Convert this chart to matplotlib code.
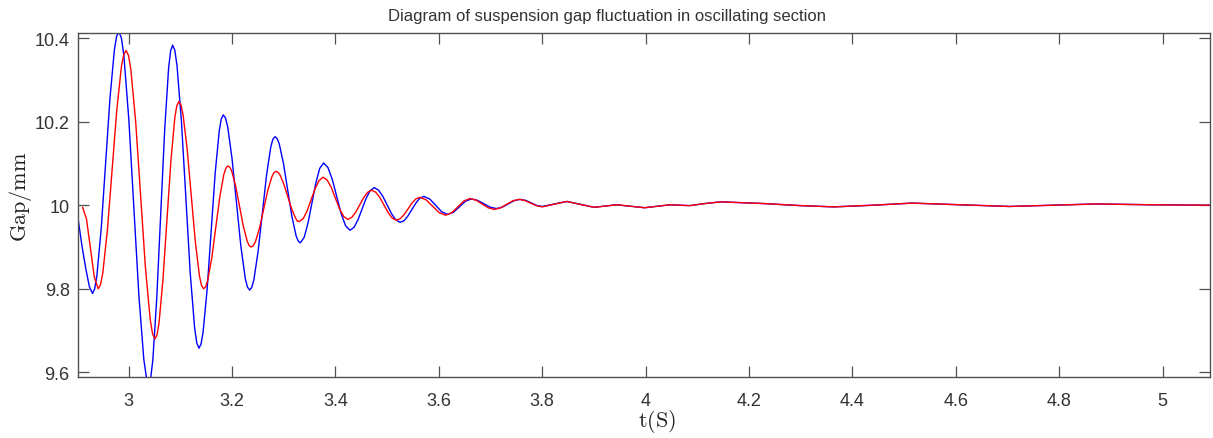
import matplotlib
matplotlib.use("Agg")
import matplotlib.pyplot as plt

# ---- data ----
blue_t = [2.900, 2.910, 2.917, 2.924, 2.930,
          2.9385, 2.947, 2.9555, 2.964, 2.9725, 2.981,
          2.9907, 3.0003, 3.010, 3.0197, 3.0293, 3.039,
          3.0467, 3.0543, 3.062, 3.0697, 3.0773, 3.085,
          3.0935, 3.102, 3.1105, 3.119, 3.1275, 3.136,
          3.1438, 3.1517, 3.1595, 3.1673, 3.1752, 3.183,
          3.1915, 3.200, 3.2085, 3.217, 3.2255, 3.234,
          3.2422, 3.2503, 3.2585, 3.2667, 3.2748, 3.283,
          3.2912, 3.2993, 3.3075, 3.3157, 3.3238, 3.332,
          3.3395, 3.347, 3.3545, 3.362, 3.3695, 3.377,
          3.3855, 3.394, 3.4025, 3.411, 3.4195, 3.428,
          3.4358, 3.4437, 3.4515, 3.4593, 3.4672, 3.475,
          3.4833, 3.4917, 3.500, 3.5083, 3.5167, 3.525,
          3.5327, 3.5403, 3.548, 3.5557, 3.5633, 3.571,
          3.5825, 3.594, 3.6055, 3.617,
          3.6285, 3.640, 3.6515, 3.663,
          3.675, 3.687, 3.699, 3.711,
          3.7225, 3.734, 3.7455, 3.757,
          3.768, 3.7785, 3.789, 3.800,
          3.824, 3.848, 3.874, 3.900, 3.9215, 3.943, 3.9705, 3.998, 4.0225, 4.047]
blue_v = [9.986, 9.900, 9.849, 9.805, 9.789,
          9.831, 9.9455, 10.102, 10.2585, 10.373, 10.415,
          10.359, 10.205, 9.995, 9.785, 9.631, 9.575,
          9.629, 9.777, 9.979, 10.181, 10.329, 10.383,
          10.334, 10.202, 10.0205, 9.839, 9.707, 9.658,
          9.695, 9.7975, 9.937, 10.0765, 10.178, 10.216,
          10.188, 10.111, 10.0065, 9.902, 9.825, 9.797,
          9.822, 9.889, 9.9805, 10.072, 10.139, 10.164,
          10.147, 10.1005, 10.037, 9.9735, 9.927, 9.910,
          9.923, 9.958, 10.0055, 10.053, 10.088, 10.101,
          10.090, 10.061, 10.0205, 9.980, 9.951, 9.940,
          9.947, 9.9655, 9.991, 10.0165, 10.035, 10.042,
          10.036, 10.021, 10.0005, 9.980, 9.965, 9.959,
          9.963, 9.9745, 9.990, 10.0055, 10.017, 10.021,
          10.0147, 9.9995, 9.9843, 9.978,
          9.9834, 9.9965, 10.0096, 10.015,
          10.0116, 10.0035, 9.9954, 9.992,
          9.9952, 10.003, 10.0108, 10.014,
          10.0115, 10.0055, 9.9995, 9.997,
          10.003, 10.009, 10.002, 9.995, 9.998, 10.001, 9.9975, 9.994, 9.9975, 10.001]
# extra readings close to the sharp peaks / troughs of the blue curve
blue_peak_t = [2.93425, 2.97675, 2.98583, 3.03417, 3.04283, 3.08117,
               3.08925, 3.13175, 3.13992, 3.17908, 3.18725, 3.22975,
               3.23808, 3.27892, 3.28708, 3.32792]
blue_peak_v = [9.7997, 10.4043, 10.4007, 9.5893, 9.5887, 10.3693,
               10.3707, 9.6703, 9.6675, 10.2065, 10.2089, 9.8041,
               9.8032, 10.1578, 10.1597, 9.9143]

red_t = [2.911, 2.9185, 2.926, 2.9335, 2.941,
         2.950, 2.959, 2.968, 2.977, 2.986, 2.995,
         3.0043, 3.0137, 3.023, 3.0323, 3.0417, 3.051,
         3.0587, 3.0663, 3.074, 3.0817, 3.0893, 3.097,
         3.105, 3.113, 3.121, 3.129, 3.137, 3.145,
         3.1528, 3.1607, 3.1685, 3.1763, 3.1842, 3.192,
         3.1995, 3.207, 3.2145, 3.222, 3.2295, 3.237,
         3.245, 3.253, 3.261, 3.269, 3.277, 3.285,
         3.2925, 3.300, 3.3075, 3.315, 3.3225, 3.330,
         3.3377, 3.3453, 3.353, 3.3607, 3.3683, 3.376,
         3.384, 3.392, 3.400, 3.408, 3.416, 3.424,
         3.4317, 3.4393, 3.447, 3.4547, 3.4623, 3.470,
         3.478, 3.486, 3.494, 3.502, 3.510, 3.518,
         3.5255, 3.533, 3.5405, 3.548, 3.5555, 3.563,
         3.5755, 3.588, 3.6005, 3.613,
         3.6248, 3.6365, 3.6483, 3.660,
         3.6718, 3.6835, 3.6953, 3.707,
         3.719, 3.731, 3.743, 3.755,
         3.766, 3.7775, 3.789, 3.800,
         3.824, 3.847, 3.8735, 3.900, 3.9225, 3.945, 3.9715, 3.998, 4.0225, 4.047]
red_v = [9.995, 9.9665, 9.8975, 9.8285, 9.800,
         9.838, 9.9425, 10.085, 10.2275, 10.332, 10.370,
         10.324, 10.1975, 10.025, 9.8525, 9.726, 9.680,
         9.718, 9.822, 9.964, 10.106, 10.210, 10.248,
         10.218, 10.136, 10.024, 9.912, 9.830, 9.800,
         9.820, 9.8735, 9.947, 10.0205, 10.074, 10.094,
         10.081, 10.0455, 9.997, 9.9485, 9.913, 9.900,
         9.912, 9.945, 9.990, 10.035, 10.068, 10.081,
         10.073, 10.051, 10.0215, 9.992, 9.970, 9.961,
         9.968, 9.987, 10.0135, 10.040, 10.059, 10.067,
         10.060, 10.042, 10.0165, 9.991, 9.973, 9.966,
         9.971, 9.9835, 10.001, 10.0185, 10.031, 10.036,
         10.031, 10.018, 10.000, 9.982, 9.969, 9.964,
         9.968, 9.978, 9.9915, 10.005, 10.015, 10.019,
         10.0127, 9.9975, 9.9823, 9.976,
         9.9818, 9.996, 10.010, 10.016,
         10.0122, 10.003, 9.9938, 9.990,
         9.9935, 10.002, 10.0105, 10.014,
         10.0114, 10.005, 9.9986, 9.996,
         10.0025, 10.009, 10.002, 9.995, 9.998, 10.001, 9.9975, 9.994, 9.9975, 10.001]
# extra readings close to the sharp peaks / troughs of the red curve
red_peak_t = [2.9455, 2.9905, 2.99967, 3.04633, 3.05483, 3.09317,
              3.101, 3.141, 3.14892, 3.18808, 3.19575, 3.23325,
              3.241, 3.281, 3.28875, 3.32625]
red_peak_v = [9.8097, 10.3603, 10.3583, 9.6917, 9.6897, 10.2383,
              10.2404, 9.8076, 9.805, 10.089, 10.0907, 9.9033,
              9.9031, 10.0779, 10.079, 9.962]

# common slow tail of both curves
tail_t = [4.085, 4.115, 4.145, 4.185, 4.228, 4.300, 4.364, 4.440, 4.515,
          4.610, 4.704, 4.790, 4.871, 4.980, 5.090]
tail_v = [9.999, 10.004, 10.008, 10.006, 10.004, 9.999, 9.996, 10.000, 10.005,
          10.001, 9.997, 10.000, 10.003, 10.001, 10.000]

x_ticks = [3.0, 3.2, 3.4, 3.6, 3.8, 4.0, 4.2, 4.4, 4.6, 4.8, 5.0]
x_tick_labels = ['3', '3.2', '3.4', '3.6', '3.8', '4', '4.2', '4.4', '4.6', '4.8', '5']
y_ticks = [9.6, 9.8, 10.0, 10.2, 10.4]
y_tick_labels = ['9.6', '9.8', '10', '10.2', '10.4']

title_text = 'Diagram of suspension gap fluctuation in oscillating section'
x_label = r'$\mathrm{t(S)}$'
y_label = r'$\mathrm{Gap/mm}$'


def merged(t_main, v_main, t_extra, v_extra):
    pts = sorted(zip(t_main + t_extra + tail_t, v_main + v_extra + tail_v))
    return [p[0] for p in pts], [p[1] for p in pts]


# ---- drawing ----
plt.rcParams['font.family'] = ['Liberation Sans', 'DejaVu Sans']
plt.rcParams['mathtext.fontset'] = 'cm'

W, H = 1213, 439
fig = plt.figure(figsize=(W / 100, H / 100), dpi=100)
ax = fig.add_axes([78 / W, 1 - 378 / H, (1210 - 78) / W, (378 - 34) / H])

bt, bv = merged(blue_t, blue_v, blue_peak_t, blue_peak_v)
rt, rv = merged(red_t, red_v, red_peak_t, red_peak_v)
ax.plot(bt, bv, color='#0000ff', lw=1.0)
ax.plot(rt, rv, color='#ff0000', lw=1.0)

ax.set_xlim(2.902, 5.0915)
ax.set_ylim(9.589, 10.412)
ax.set_xticks(x_ticks)
ax.set_xticklabels(x_tick_labels)
ax.set_yticks(y_ticks)
ax.set_yticklabels(y_tick_labels)

axis_col = '#505050'
ax.tick_params(direction='in', length=8, width=0.9, top=True, right=True,
               color=axis_col, labelcolor='#333333', labelsize=13)
ax.tick_params(axis='x', pad=11)
ax.tick_params(axis='y', pad=6)
for sp in ax.spines.values():
    sp.set_color(axis_col)
    sp.set_linewidth(1.0)

fig.text(0.5, 1 - 17 / H, title_text, ha='center', va='center',
         fontsize=12, color='#333333')
fig.text(657 / W, 1 - 422 / H, x_label, ha='center', va='center',
         fontsize=16, color='#222222')
fig.text(21 / W, 1 - 197 / H, y_label, ha='center', va='center',
         rotation=90, fontsize=16, color='#222222')

fig.savefig('out.png', dpi=100)
